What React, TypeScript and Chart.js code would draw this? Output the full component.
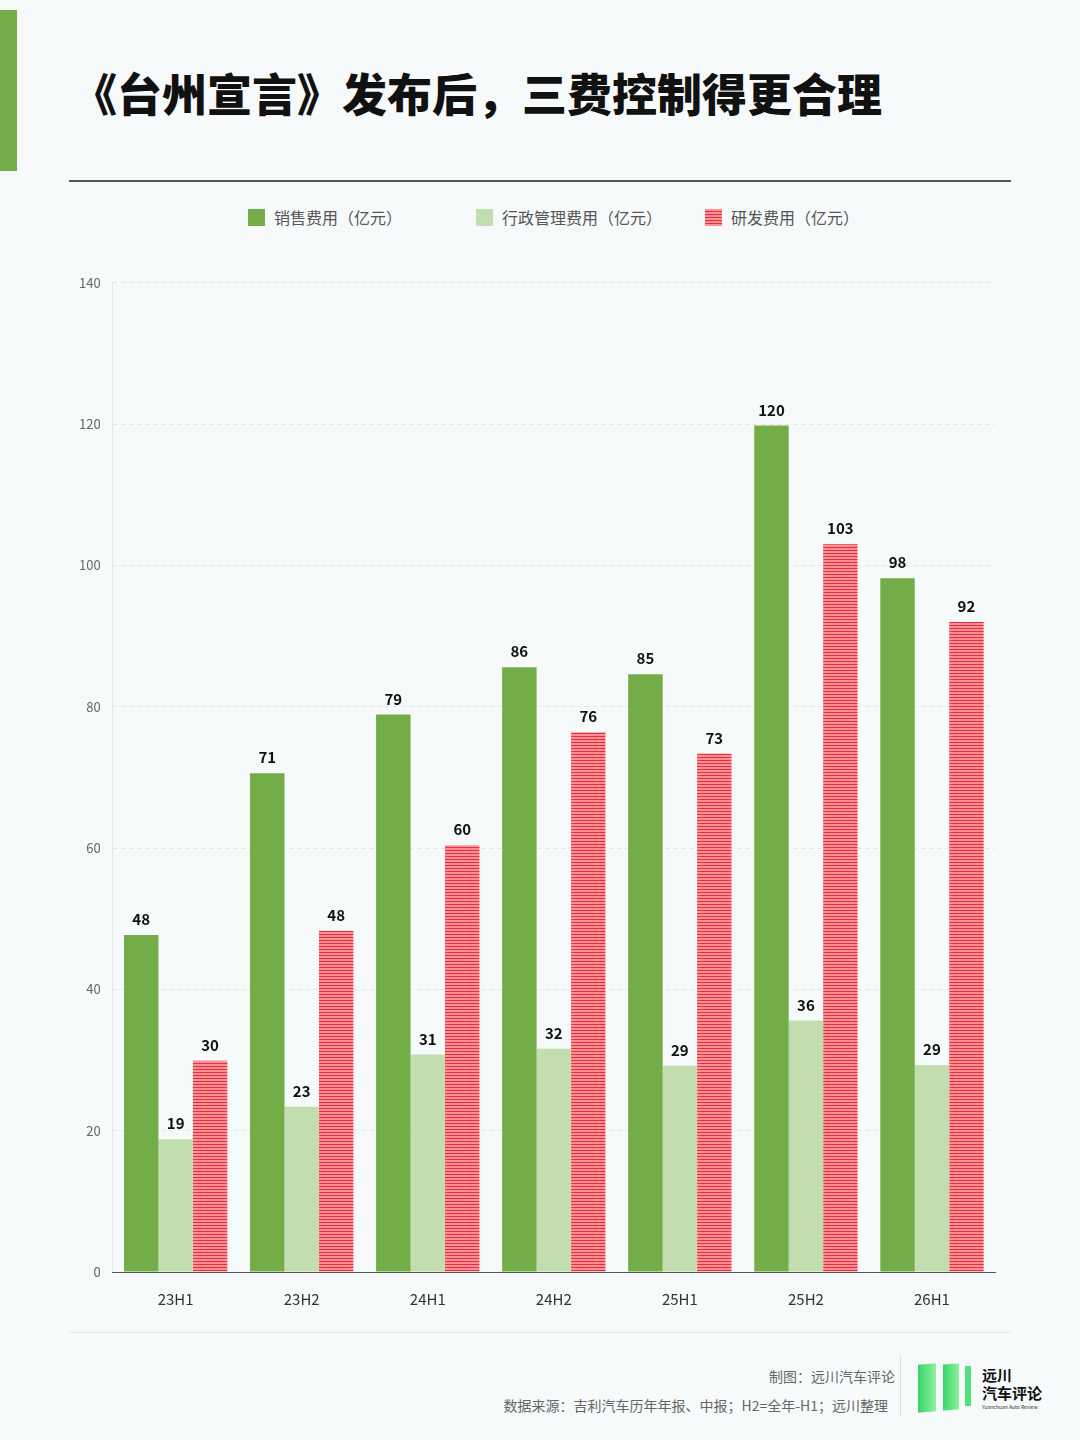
import React, { useEffect, useRef } from "react";
import { Chart, registerables } from "chart.js";
Chart.register(...registerables);

const categories = ["23H1", "23H2", "24H1", "24H2", "25H1", "25H2", "26H1"];
const sales = [47.7, 70.6, 78.9, 85.6, 84.6, 119.8, 98.2];
const admin = [18.8, 23.4, 30.8, 31.6, 29.2, 35.6, 29.3];
const rnd = [29.9, 48.3, 60.4, 76.4, 73.4, 103, 92];
const seriesNames = ["销售费用（亿元）", "行政管理费用（亿元）", "研发费用（亿元）"];

const FONT = "'Noto Sans CJK SC', 'Noto Sans', sans-serif";

function makePattern(): CanvasPattern | string {
  const c = document.createElement("canvas");
  c.width = 4; c.height = 3;
  const g = c.getContext("2d");
  if (!g) return "#f77";
  g.fillStyle = "#ff9090"; g.fillRect(0, 0, 4, 3);
  g.fillStyle = "#e0304a"; g.fillRect(0, 2, 4, 1);
  return g.createPattern(c, "repeat") as CanvasPattern;
}

const labelPlugin = {
  id: "vals",
  afterDatasetsDraw(chart: any) {
    const ctx = chart.ctx;
    ctx.save();
    ctx.font = `bold 15px ${FONT}`;
    ctx.fillStyle = "#111";
    ctx.textAlign = "center";
    ctx.textBaseline = "bottom";
    chart.data.datasets.forEach((ds: any, i: number) => {
      chart.getDatasetMeta(i).data.forEach((bar: any, j: number) => {
        ctx.fillText(String(Math.round(ds.data[j])), bar.x, bar.y - 8);
      });
    });
    ctx.restore();
  },
};

export default function App() {
  const ref = useRef<HTMLCanvasElement>(null);
  useEffect(() => {
    const pat = makePattern();
    const chart = new Chart(ref.current!, {
      type: "bar",
      data: {
        labels: categories,
        datasets: [
          { label: seriesNames[0], data: sales, backgroundColor: "#72ad47" },
          { label: seriesNames[1], data: admin, backgroundColor: "#c3deae" },
          { label: seriesNames[2], data: rnd, backgroundColor: pat as any },
        ],
      },
      options: {
        animation: false,
        responsive: false,
        layout: { padding: { left: 7, right: 15, top: 10, bottom: 0 } },
        datasets: { bar: { categoryPercentage: 0.82, barPercentage: 1 } },
        plugins: { legend: { display: false }, tooltip: { enabled: false } },
        scales: {
          y: {
            min: 0, max: 140,
            ticks: { stepSize: 20, color: "#666", font: { size: 13, family: FONT }, padding: 12 },
            grid: { color: "#e2e6e8", drawTicks: false },
            border: { display: true, color: "#e4e8ea", dash: [4, 4] },
          },
          x: {
            ticks: { color: "#333", font: { size: 15, family: FONT }, padding: 10 },
            grid: { display: false },
            border: { color: "#555" },
          },
        },
      },
      plugins: [labelPlugin],
    });
    return () => chart.destroy();
  }, []);

  const legendItem = (color: string, text: string, left: number, striped = false) => (
    <div style={{ position: "absolute", left, top: 205, display: "flex", alignItems: "center", fontSize: 16, color: "#555" }}>
      <div style={{
        width: 17, height: 17, marginRight: 9,
        background: striped ? "repeating-linear-gradient(#ff9090 0 2px, #e0304a 2px 3px)" : color,
      }} />
      {text}
    </div>
  );

  return (
    <div style={{ position: "absolute", left: 0, top: 0, width: 1080, height: 1440, background: "#f7fafb", fontFamily: FONT, overflow: "hidden" }}>
      <div style={{ position: "absolute", left: 0, top: 10, width: 17, height: 161, background: "#72ad47" }} />
      <div style={{ position: "absolute", left: 72, top: 60, fontSize: 45, fontWeight: 900, color: "#111", whiteSpace: "nowrap" }}>
        《台州宣言》发布后，三费控制得更合理
      </div>
      <div style={{ position: "absolute", left: 69, top: 180, width: 942, height: 2, background: "#555" }} />
      {legendItem("#72ad47", seriesNames[0], 248)}
      {legendItem("#c3deae", seriesNames[1], 476)}
      {legendItem("", seriesNames[2], 705, true)}
      <canvas ref={ref} width={950} height={1055} style={{ position: "absolute", left: 60, top: 263, width: 950, height: 1055 }} />
      <div style={{ position: "absolute", left: 69, top: 1332, width: 942, height: 1, background: "#e2e6e8" }} />
      <div style={{ position: "absolute", right: 185, top: 1366, fontSize: 14, color: "#666" }}>制图：远川汽车评论</div>
      <div style={{ position: "absolute", right: 192, top: 1395, fontSize: 14, color: "#666", whiteSpace: "nowrap" }}>数据来源：吉利汽车历年年报、中报；H2=全年-H1；远川整理</div>
      <div style={{ position: "absolute", left: 900, top: 1356, width: 1, height: 60, background: "#ddd" }} />
      <div style={{ position: "absolute", left: 918, top: 1364, width: 18, height: 48, background: "linear-gradient(90deg,#39d46a,#8ef29c)", transform: "skewY(-4deg)" }} />
      <div style={{ position: "absolute", left: 943, top: 1364, width: 16, height: 46, background: "linear-gradient(90deg,#39d46a,#8ef29c)", transform: "skewY(-4deg)" }} />
      <div style={{ position: "absolute", left: 965, top: 1366, width: 6, height: 40, background: "#4ee07a" }} />
      <div style={{ position: "absolute", left: 982, top: 1366, fontSize: 15, fontWeight: 700, lineHeight: "18px", color: "#111" }}>远川<br />汽车评论</div>
      <div style={{ position: "absolute", left: 982, top: 1403, fontSize: 5, color: "#333" }}>Yuanchuan Auto Review</div>
    </div>
  );
}
